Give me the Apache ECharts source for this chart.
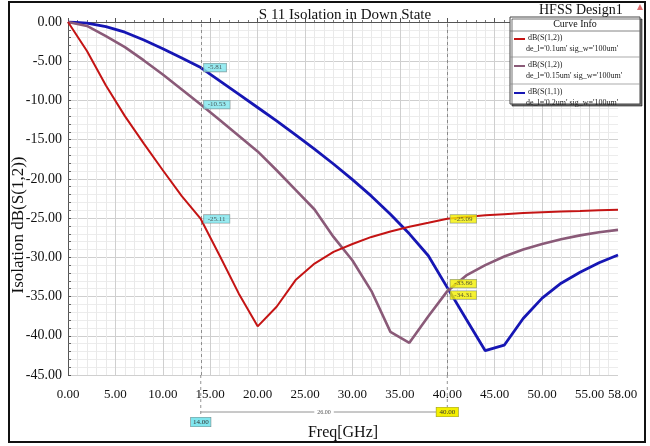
<!DOCTYPE html>
<html>
<head>
<meta charset="utf-8">
<script src="https://cdn.jsdelivr.net/npm/echarts@6/dist/echarts.min.js"></script>
<style>
  html, body { margin: 0; padding: 0; background: #ffffff; }
  #chart { width: 650px; height: 446px; }
</style>
</head>
<body>
<div id="chart"></div>
<script>
// Frequency sweep (GHz)
const freq = [0, 2, 4, 6, 8, 10, 12, 14, 16, 18, 20, 22, 24, 26, 28,
              30, 32, 34, 36, 38, 40, 42, 44, 46, 48, 50, 52, 54, 56, 58];

// dB(S(1,2)) for de_l = 0.1um
const s12_01 = [0, -3.7, -8.1, -12.0, -15.5, -18.9, -22.2, -25.11, -29.8, -34.6, -38.8,
                -36.3, -32.9, -30.8, -29.3, -28.3, -27.4, -26.7, -26.1, -25.6, -25.09,
                -24.85, -24.65, -24.5, -24.35, -24.25, -24.15, -24.08, -24.0, -23.95];

// dB(S(1,2)) for de_l = 0.15um
const s12_015 = [0, -0.5, -1.8, -3.2, -4.9, -6.7, -8.6, -10.53, -12.5, -14.5, -16.5,
                 -18.9, -21.4, -23.9, -27.4, -30.4, -34.3, -39.5, -40.9, -37.5, -34.31,
                 -32.3, -31.0, -29.9, -29.0, -28.3, -27.7, -27.2, -26.8, -26.5];

// dB(S(1,1)) for de_l = 0.2um
const s11_02 = [0, -0.15, -0.6, -1.3, -2.3, -3.4, -4.6, -5.81, -7.5, -9.2, -10.9,
                -12.6, -14.4, -16.2, -18.1, -20.1, -22.2, -24.5, -27.0, -29.8, -33.86,
                -37.9, -41.9, -41.2, -37.8, -35.2, -33.3, -31.9, -30.7, -29.7];

// Marker frequencies
const markerA = 14;
const markerB = 40;

// Axis tick labels (the sweep end gets its own label)
const xTickValues = [0, 5, 10, 15, 20, 25, 30, 35, 40, 45, 50, 55];
const xEndValue = [58];

const curveNames = ["dB(S(1,2))", "dB(S(1,2))", "dB(S(1,1))"];
const curveSubs = ["de_l='0.1um' sig_w='100um'", "de_l='0.15um' sig_w='100um'", "de_l='0.2um' sig_w='100um'"];
const curveColors = ["#c41414", "#8a5a78", "#1616b4"];
const curveWidths = [2, 2.6, 2.8];
const curves = [s12_01, s12_015, s11_02];

const serif = "'Liberation Serif', 'DejaVu Serif', serif";

function pairs(ys) { return freq.map((f, i) => [f, ys[i]]); }
function valueAt(ys, f) { return ys[freq.indexOf(f)]; }

const chart = echarts.init(document.getElementById('chart'), null, { renderer: 'canvas' });

// marker tags: cyan at marker A, yellow at marker B
const tagOffsets = { A: [0, 0, 0], B: [0, 4, -4] };
function tagData(f, key, fill) {
  return curves.map((ys, i) => ({
    value: [f, valueAt(ys, f)],
    label: { offset: [0, tagOffsets[key][i]], backgroundColor: fill }
  }));
}

const series = curves.map((ys, i) => ({
  type: 'line',
  data: pairs(ys),
  showSymbol: false,
  symbol: 'none',
  smooth: false,
  lineStyle: { color: curveColors[i], width: curveWidths[i] },
  z: 3 + (2 - i),
  silent: true
}));

series.push({
  type: 'scatter',
  data: tagData(markerA, 'A', '#7fe6ee').concat(tagData(markerB, 'B', '#f4f000')),
  symbolSize: 0,
  z: 10,
  silent: true,
  label: {
    show: true,
    position: 'right',
    distance: 3,
    formatter: p => p.value[1].toFixed(2),
    fontFamily: serif,
    fontSize: 7,
    color: '#333',
    borderColor: '#7a8a8a',
    borderWidth: 0.6,
    padding: [1, 4, 0, 4]
  },
  markLine: {
    silent: true,
    symbol: 'none',
    label: { show: false },
    lineStyle: { type: [3, 3], color: '#777', width: 0.8 },
    data: [{ xAxis: markerA }, { xAxis: markerB }]
  }
});

const xLabelStyle = {
  margin: 13,
  formatter: v => v.toFixed(2),
  fontFamily: serif, fontSize: 13, color: '#111'
};

chart.setOption({
  animation: false,
  backgroundColor: '#ffffff',
  title: {
    text: 'S 11 Isolation in Down State',
    left: 340, top: 3, textAlign: 'center',
    textStyle: { fontFamily: serif, fontSize: 15, fontWeight: 'normal', color: '#111' }
  },
  grid: { left: 68, right: 32, top: 22, bottom: 70 },
  xAxis: [{
    type: 'value', min: 0, max: 58, interval: 5, position: 'bottom',
    name: 'Freq[GHz]', nameLocation: 'middle', nameGap: 50,
    nameTextStyle: { fontFamily: serif, fontSize: 16, color: '#111' },
    axisLine: { show: true, lineStyle: { color: '#555', width: 1 } },
    axisTick: { show: true, inside: true, length: 4, lineStyle: { color: '#555' }, customValues: xTickValues },
    minorTick: { show: true, splitNumber: 5, length: 2, lineStyle: { color: '#777' } },
    axisLabel: Object.assign({ customValues: xTickValues }, xLabelStyle),
    splitLine: { show: true, lineStyle: { color: '#cfcfcf', width: 1 } },
    minorSplitLine: { show: true, lineStyle: { color: '#e9e9e9', width: 1 } }
  }, {
    type: 'value', min: 0, max: 58, position: 'bottom', offset: 0,
    axisLine: { show: false },
    axisTick: { show: false },
    splitLine: { show: false },
    axisLabel: Object.assign({ customValues: xEndValue, showMaxLabel: true, padding: [0, 0, 0, 9] }, xLabelStyle)
  }],
  yAxis: {
    type: 'value', min: -45, max: 0, interval: 5,
    axisLine: { show: true, lineStyle: { color: '#555', width: 1 } },
    axisTick: { show: true, inside: true, length: 3, lineStyle: { color: '#555' } },
    minorTick: { show: true, splitNumber: 5, length: 3, lineStyle: { color: '#666' } },
    axisLabel: {
      margin: 6,
      formatter: v => v.toFixed(2),
      fontFamily: serif, fontSize: 14, color: '#111'
    },
    splitLine: { show: true, lineStyle: { color: '#cfcfcf', width: 1 } },
    minorSplitLine: { show: true, lineStyle: { color: '#ececec', width: 1 } }
  },
  series: series
});

// Frame, axis title, design label, curve info box and the marker delta readout
const pA = chart.convertToPixel({ gridIndex: 0 }, [markerA, -45]);
const pB = chart.convertToPixel({ gridIndex: 0 }, [markerB, -45]);
const deltaY = pA[1] + 37;

const legendX = 510, legendY = 17, legendW = 130, rowH = 27;
const legendEls = [
  { type: 'rect', shape: { x: legendX, y: legendY, width: legendW, height: 87 },
    style: { fill: '#fff', stroke: '#444', lineWidth: 1, shadowColor: 'rgba(0,0,0,0.55)', shadowOffsetX: 2, shadowOffsetY: 2 }, z: 100 },
  { type: 'text', x: legendX + legendW / 2, y: legendY + 2,
    style: { text: 'Curve Info', fontFamily: serif, fontSize: 10, fill: '#111', align: 'center' }, z: 101 },
  { type: 'line', shape: { x1: legendX, y1: legendY + 14, x2: legendX + legendW, y2: legendY + 14 },
    style: { stroke: '#666', lineWidth: 0.8 }, z: 101 }
];
curveNames.forEach((nm, i) => {
  const y0 = legendY + 16 + i * rowH;
  legendEls.push(
    { type: 'line', shape: { x1: legendX + 4, y1: y0 + 6, x2: legendX + 15, y2: y0 + 6 },
      style: { stroke: curveColors[i], lineWidth: 2 }, z: 101 },
    { type: 'text', x: legendX + 18, y: y0 + 1,
      style: { text: nm, fontFamily: serif, fontSize: 8, fill: '#222' }, z: 101 },
    { type: 'text', x: legendX + 16, y: y0 + 12,
      style: { text: curveSubs[i], fontFamily: serif, fontSize: 8, fill: '#222' }, z: 101 }
  );
  if (i < 2) {
    legendEls.push({ type: 'line', shape: { x1: legendX, y1: y0 + rowH - 3, x2: legendX + legendW, y2: y0 + rowH - 3 },
      style: { stroke: '#888', lineWidth: 0.7 }, z: 101 });
  }
});

chart.setOption({
  graphic: [
    { type: 'rect', shape: { x: 9, y: 2, width: 636, height: 440 },
      style: { fill: 'none', stroke: '#111', lineWidth: 2 }, z: 200, silent: true },
    { type: 'text', x: 19, y: 225, rotation: Math.PI / 2, z: 101,
      style: { text: 'Isolation dB(S(1,2))', fontFamily: serif, fontSize: 17, fill: '#111',
               align: 'center', verticalAlign: 'middle' } },
    { type: 'text', x: 539, y: 3,
      style: { text: 'HFSS Design1', fontFamily: serif, fontSize: 14, fill: '#111' }, z: 101 },
    { type: 'polygon', shape: { points: [[637, 10], [640, 4], [643, 10]] },
      style: { fill: '#e07070' }, z: 101 },
    // dashed marker lines continued below the axis
    { type: 'line', shape: { x1: pA[0], y1: pA[1], x2: pA[0], y2: deltaY + 8 },
      style: { stroke: '#777', lineWidth: 0.8, lineDash: [3, 3] }, z: 5 },
    { type: 'line', shape: { x1: pB[0], y1: pB[1], x2: pB[0], y2: deltaY },
      style: { stroke: '#777', lineWidth: 0.8, lineDash: [3, 3] }, z: 5 },
    { type: 'line', shape: { x1: pA[0], y1: deltaY, x2: pB[0], y2: deltaY },
      style: { stroke: '#777', lineWidth: 0.8 }, z: 5 },
    { type: 'text', x: (pA[0] + pB[0]) / 2, y: deltaY, z: 6,
      style: { text: (markerB - markerA).toFixed(2), fontFamily: serif, fontSize: 6, fill: '#555',
               align: 'center', verticalAlign: 'middle', backgroundColor: '#fff', padding: [0, 3] } },
    { type: 'text', x: pA[0], y: deltaY + 10, z: 6,
      style: { text: markerA.toFixed(2), fontFamily: serif, fontSize: 7, fill: '#333', align: 'center',
               verticalAlign: 'middle', backgroundColor: '#7fe6ee', borderColor: '#7a8a8a', borderWidth: 0.6, padding: [1, 2] } },
    { type: 'text', x: pB[0], y: deltaY, z: 6,
      style: { text: markerB.toFixed(2), fontFamily: serif, fontSize: 7, fill: '#333', align: 'center',
               verticalAlign: 'middle', backgroundColor: '#f4f000', borderColor: '#9a9a40', borderWidth: 0.6, padding: [1, 3] } }
  ].concat(legendEls)
});
</script>
</body>
</html>
